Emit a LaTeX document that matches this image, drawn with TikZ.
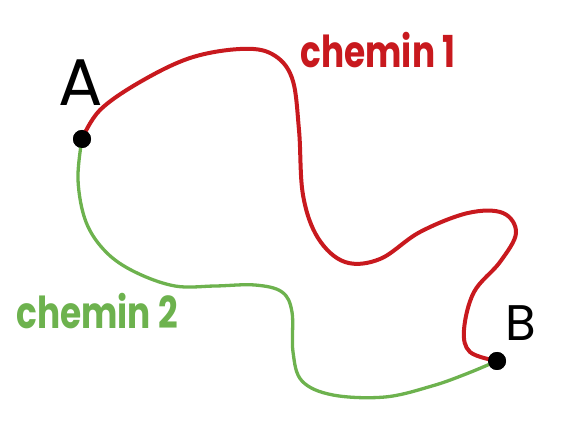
\documentclass[tikz,border=0pt]{standalone}
\usepackage{fontspec}
\setmainfont{Poppins}
\definecolor{cred}{HTML}{C8191E}
\definecolor{cgreen}{HTML}{6DB24E}
\begin{document}
\begin{tikzpicture}[x=1pt,y=-1pt,
  dot/.style={circle,fill=black,inner sep=0pt,minimum size=18pt},
  lbl/.style={font=\fontsize{66}{68}\selectfont,text=black,inner sep=0pt},
  pathlbl/.style={font=\fontsize{44}{46}\selectfont\bfseries,inner sep=0pt,xscale=0.78},
  route/.style={line width=4pt,line cap=round,line join=round}]
\useasboundingbox (0,0) rectangle (566,441);
\node[dot] (A) at (82,139) {};
\node[dot] (B) at (497,361) {};
\node[lbl] (la) at (81,83) {A};
\node[lbl,font=\fontsize{50}{52}\selectfont] (lb) at (521,323) {B};
\node[pathlbl,text=cred] (c1) at (378,50) {chemin 1};
\node[pathlbl,text=cgreen] (c2) at (97,311) {chemin 2};
\draw[route,cred] plot[smooth,tension=0.6] coordinates {(A.center) (100,110) (140,82) (190,58) (240,49) (272,54) (292,78) (299,130) (303,195) (318,238) (345,262) (380,259) (420,232) (468,213) (503,213) (516,233) (500,262) (474,292) (464,330) (470,352) (B.center)};
\draw[route,cgreen,line width=3.3pt] plot[smooth,tension=0.6] coordinates {(A.center) (78,180) (86,222) (106,252) (135,272) (175,286) (215,286) (255,285) (282,292) (292,312) (293,352) (302,381) (333,395) (385,397) (432,386) (466,374) (B.center)};
\node[dot] at (A) {};
\node[dot] at (B) {};
\end{tikzpicture}
\end{document}
